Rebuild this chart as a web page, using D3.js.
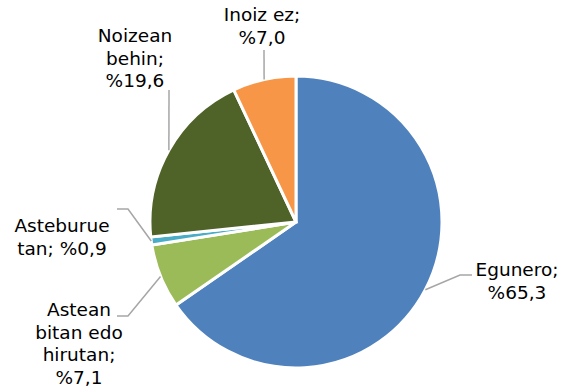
<!DOCTYPE html>
<html>
<head>
<meta charset="utf-8">
<script src="https://cdn.jsdelivr.net/npm/d3@7/dist/d3.min.js"></script>
<style>
  html, body { margin: 0; padding: 0; background: #fff; }
  svg { display: block; }
  text { font-family: "DejaVu Sans", Verdana, sans-serif; font-size: 18.5px; fill: #000; }
</style>
</head>
<body>
<svg id="chart" width="573" height="392"></svg>
<script>
// Maiztasuna: kategoriak eta ehunekoak
const categories = ["Egunero", "Astean bitan edo hirutan", "Asteburuetan", "Noizean behin", "Inoiz ez"];
const values = [65.3, 7.1, 0.9, 19.6, 7.0];
const labelLines = [
  ["Egunero;", "%65,3"],
  ["Astean", "bitan edo", "hirutan;", "%7,1"],
  ["Asteburue", "tan; %0,9"],
  ["Noizean", "behin;", "%19,6"],
  ["Inoiz ez;", "%7,0"]
];
const colors = ["#4F81BD", "#9BBB59", "#4BACC6", "#4F6228", "#F79646"];

// Layout
const cx = 296, cy = 222, radius = 146;
const lineHeight = 22.5;
// text block centre x, first baseline y, leader start and optional elbow
const labelLayout = [
  { x: 517, y: 276, start: [472, 275], elbow: [460, 275] },
  { x: 79,  y: 316, start: [117, 316], elbow: [128, 316] },
  { x: 62,  y: 232, start: [117, 209], elbow: [128, 209] },
  { x: 135, y: 42,  start: [169, 90],  elbow: null },
  { x: 262, y: 21,  start: [264, 50],  elbow: null }
];

const svg = d3.select("#chart");
const g = svg.append("g").attr("transform", `translate(${cx},${cy})`);

const pie = d3.pie().sort(null).value(d => d)(values);
const arc = d3.arc().innerRadius(0).outerRadius(radius);

g.selectAll("path.slice")
  .data(pie)
  .join("path")
  .attr("class", "slice")
  .attr("d", arc)
  .attr("fill", (d, i) => colors[i])
  .attr("stroke", "#fff")
  .attr("stroke-width", 3)
  .attr("stroke-linejoin", "miter");

// Leader lines ending on the slice edge at its mid angle
const edgePoint = d => {
  const a = (d.startAngle + d.endAngle) / 2;
  return [cx + radius * Math.sin(a), cy - radius * Math.cos(a)];
};

svg.selectAll("polyline.leader")
  .data(pie)
  .join("polyline")
  .attr("class", "leader")
  .attr("points", (d, i) => {
    const L = labelLayout[i];
    const pts = [L.start];
    if (L.elbow) pts.push(L.elbow);
    pts.push(edgePoint(d));
    return pts.map(p => p.join(",")).join(" ");
  })
  .attr("fill", "none")
  .attr("stroke", "#A6A6A6")
  .attr("stroke-width", 1.5);

// Labels
const labels = svg.selectAll("text.lbl")
  .data(pie)
  .join("text")
  .attr("class", "lbl")
  .attr("text-anchor", "middle");

labels.selectAll("tspan")
  .data((d, i) => labelLines[i].map(t => ({ t, i })))
  .join("tspan")
  .attr("x", d => labelLayout[d.i].x)
  .attr("y", (d, k) => labelLayout[d.i].y + k * lineHeight)
  .text(d => d.t);
</script>
</body>
</html>
